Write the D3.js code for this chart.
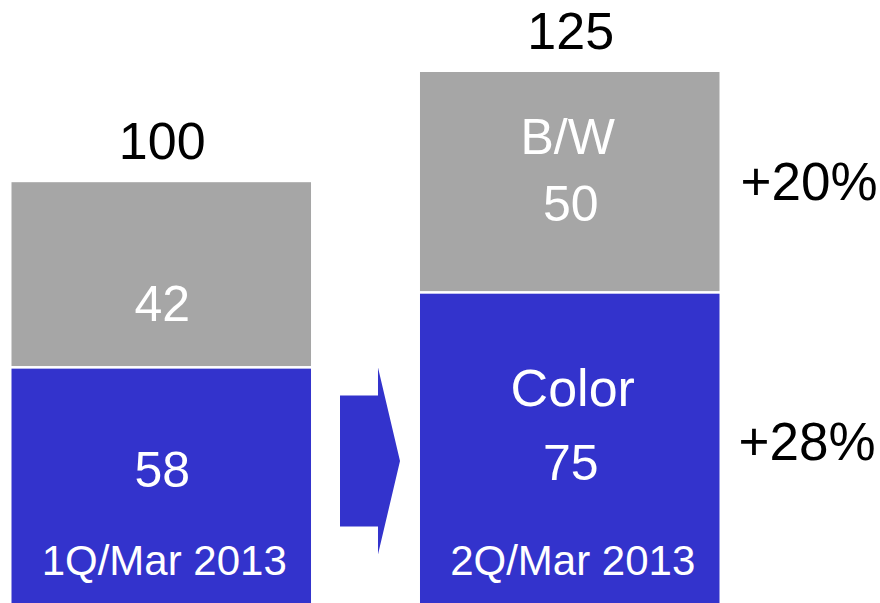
<!DOCTYPE html>
<html>
<head>
<meta charset="utf-8">
<script src="https://cdn.jsdelivr.net/npm/d3@7"></script>
<style>
  html, body { margin: 0; padding: 0; background: #fff; }
  svg { display: block; font-family: "Liberation Sans", Arial, sans-serif; }
</style>
</head>
<body>
<svg id="chart" width="880" height="603"></svg>
<script>
// ---- data ----
const periods = ["1Q/Mar 2013", "2Q/Mar 2013"];
const colorValues = [58, 75];
const bwValues = [42, 50];
const totals = [100, 125];
const growthLabels = ["+20%", "+28%"]; // B/W growth, Color growth
const seriesNames = ["B/W", "Color"];

// ---- layout ----
const svg = d3.select("#chart");
const BLUE = "#3333CC", GRAY = "#A6A6A6";

const x = d3.scaleBand().domain(periods).range([11.5, 719.5]).paddingInner(0.2668).paddingOuter(0);
const y = d3.scaleLinear().domain([0, 125]).range([623, 72]);
const bw = x.bandwidth();
const gap = 1.3;

const rows = periods.map((p, i) => ({ p, i, color: colorValues[i], bw: bwValues[i], total: totals[i] }));

// Color segments
svg.selectAll("rect.color").data(rows).join("rect")
  .attr("class", "color")
  .attr("x", d => x(d.p)).attr("width", bw)
  .attr("y", d => y(d.color) + gap)
  .attr("height", d => y(0) - y(d.color) - gap)
  .attr("fill", BLUE);

// B/W segments
svg.selectAll("rect.bw").data(rows).join("rect")
  .attr("class", "bw")
  .attr("x", d => x(d.p)).attr("width", bw)
  .attr("y", d => y(d.color + d.bw))
  .attr("height", d => y(d.color) - y(d.color + d.bw) - gap)
  .attr("fill", GRAY);

// total labels above bars
svg.selectAll("text.total").data(rows).join("text")
  .attr("class", "total")
  .attr("x", d => x(d.p) + bw / 2 + 1)
  .attr("y", d => y(d.total) - 23)
  .attr("text-anchor", "middle")
  .attr("font-size", 52)
  .attr("fill", "#000")
  .text(d => d.total);

// value labels inside segments
svg.selectAll("text.bwv").data(rows).join("text")
  .attr("class", "bwv")
  .attr("x", d => x(d.p) + bw / 2 + 1)
  .attr("y", d => d.i === 0 ? y(d.color) - 46 : y(d.color) - 71)
  .attr("text-anchor", "middle")
  .attr("font-size", 50)
  .attr("fill", "#fff")
  .text(d => d.bw);

svg.selectAll("text.colv").data(rows).join("text")
  .attr("class", "colv")
  .attr("x", d => x(d.p) + bw / 2 + 1)
  .attr("y", d => d.i === 0 ? y(d.color) + 120 : y(d.color) + 188)
  .attr("text-anchor", "middle")
  .attr("font-size", 50)
  .attr("fill", "#fff")
  .text(d => d.color);

// series names in second bar
const r2 = rows[1];
svg.append("text")
  .attr("x", x(r2.p) + bw / 2 - 2)
  .attr("y", y(r2.total) + 82)
  .attr("text-anchor", "middle").attr("font-size", 50).attr("fill", "#fff")
  .text(seriesNames[0]);
svg.append("text")
  .attr("x", x(r2.p) + bw / 2 + 3)
  .attr("y", y(r2.color) + 114)
  .attr("text-anchor", "middle").attr("font-size", 52).attr("fill", "#fff")
  .text(seriesNames[1]);

// period labels at bottom of bars
svg.selectAll("text.period").data(rows).join("text")
  .attr("class", "period")
  .attr("x", d => x(d.p) + bw / 2 + 3)
  .attr("y", 575)
  .attr("text-anchor", "middle")
  .attr("font-size", 42)
  .attr("fill", "#fff")
  .text(d => d.p);

// growth labels to the right
const gx = x(periods[1]) + bw + 21;
svg.append("text").attr("x", gx).attr("y", 200)
  .attr("font-size", 53).attr("fill", "#000").text(growthLabels[0]);
svg.append("text").attr("x", gx - 2).attr("y", 460)
  .attr("font-size", 53).attr("fill", "#000").text(growthLabels[1]);

// arrow between bars
const ax0 = x(periods[0]) + bw + 29, axTip = x(periods[1]) - 20, axNeck = axTip - 22;
const acy = 461, bodyH = 65.5, headH = 93.5;
svg.append("path")
  .attr("d", d3.line()([
    [ax0, acy - bodyH], [axNeck, acy - bodyH], [axNeck, acy - headH], [axTip, acy],
    [axNeck, acy + headH], [axNeck, acy + bodyH], [ax0, acy + bodyH]
  ]) + "Z")
  .attr("fill", BLUE);
</script>
</body>
</html>
